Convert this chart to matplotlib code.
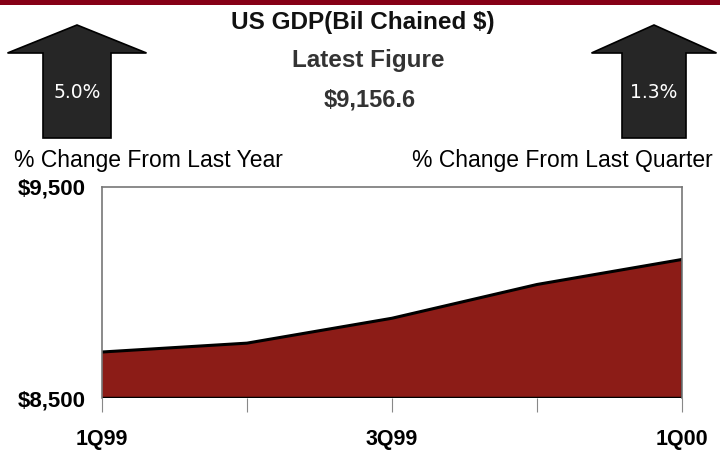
import matplotlib.pyplot as plt
from matplotlib.patches import Polygon, Rectangle
from matplotlib.font_manager import fontManager

quarters = ["1Q99", "2Q99", "3Q99", "4Q99", "1Q00"]
gdp = [8718.0, 8760.0, 8878.0, 9038.0, 9156.6]
tick_labels = ["1Q99", "", "3Q99", "", "1Q00"]
yearly_change = "5.0%"
quarterly_change = "1.3%"
latest = "$9,156.6"

names = {f.name for f in fontManager.ttflist}
narrow = "Liberation Sans Narrow" if "Liberation Sans Narrow" in names else "Liberation Sans"

W, H = 720, 454
fig = plt.figure(figsize=(W / 100, H / 100), dpi=100)


def fx(px):
    return px / W


def fy(py):
    return 1 - py / H


# red band along the top edge
fig.patches.append(Rectangle((0, fy(5)), 1, 5 / H, transform=fig.transFigure,
                             facecolor="#860016", edgecolor="none"))


def up_arrow(cx, head_w, shaft_w):
    pts = [(cx, 25), (cx + head_w / 2, 53), (cx + shaft_w / 2, 53),
           (cx + shaft_w / 2, 138), (cx - shaft_w / 2, 138),
           (cx - shaft_w / 2, 53), (cx - head_w / 2, 53)]
    fig.patches.append(Polygon([(fx(x), fy(y)) for x, y in pts], closed=True,
                               transform=fig.transFigure, facecolor="#262626",
                               edgecolor="black", linewidth=1.2))


up_arrow(77, 139, 68)
up_arrow(654, 125, 64)
fig.text(fx(77), fy(92), yearly_change, color="white", fontsize=13.5,
         family="DejaVu Sans", ha="center", va="center")
fig.text(fx(654), fy(92), quarterly_change, color="white", fontsize=13.5,
         family="DejaVu Sans", ha="center", va="center")

fig.text(fx(363), fy(22), "US GDP(Bil Chained $)", family=narrow, weight="bold",
         fontsize=17.5, ha="center", va="center", color="#111111")
fig.text(fx(368), fy(60), "Latest Figure", family=narrow, weight="bold",
         fontsize=17.5, ha="center", va="center", color="#333333")
fig.text(fx(370), fy(100), latest, family=narrow, weight="bold",
         fontsize=17, ha="center", va="center", color="#333333")
fig.text(fx(14), fy(160), "% Change From Last Year", family=narrow,
         fontsize=16.5, ha="left", va="center", color="black")
fig.text(fx(412), fy(160), "% Change From Last Quarter", family=narrow,
         fontsize=16.5, ha="left", va="center", color="black")

ax = fig.add_axes([fx(102), fy(398), fx(682) - fx(102), (398 - 187) / H])
x = list(range(len(quarters)))
ax.fill_between(x, 8500, gdp, facecolor="#8c1c17", edgecolor="none")
ax.plot(x, gdp, color="black", linewidth=2.2, solid_capstyle="butt")
ax.plot([x[0], x[-1]], [8500, 8500], color="black", linewidth=2.5)
ax.plot([x[-1], x[-1]], [8500, gdp[-1]], color="black", linewidth=1.5)
ax.set_xlim(x[0], x[-1])
ax.set_ylim(8500, 9500)
ax.set_yticks([8500, 9500])
ax.set_yticklabels(["$8,500", "$9,500"], family=narrow, weight="bold", fontsize=16)
ax.set_xticks(x)
ax.set_xticklabels(tick_labels, family=narrow, weight="bold", fontsize=15.5)
ax.tick_params(axis="y", length=0, pad=12)
ax.tick_params(axis="x", length=10, color="#888888", pad=12)
for s in ax.spines.values():
    s.set_color("#777777")
    s.set_linewidth(1.2)
ax.spines["bottom"].set_visible(False)

fig.savefig("out.png", dpi=100)
